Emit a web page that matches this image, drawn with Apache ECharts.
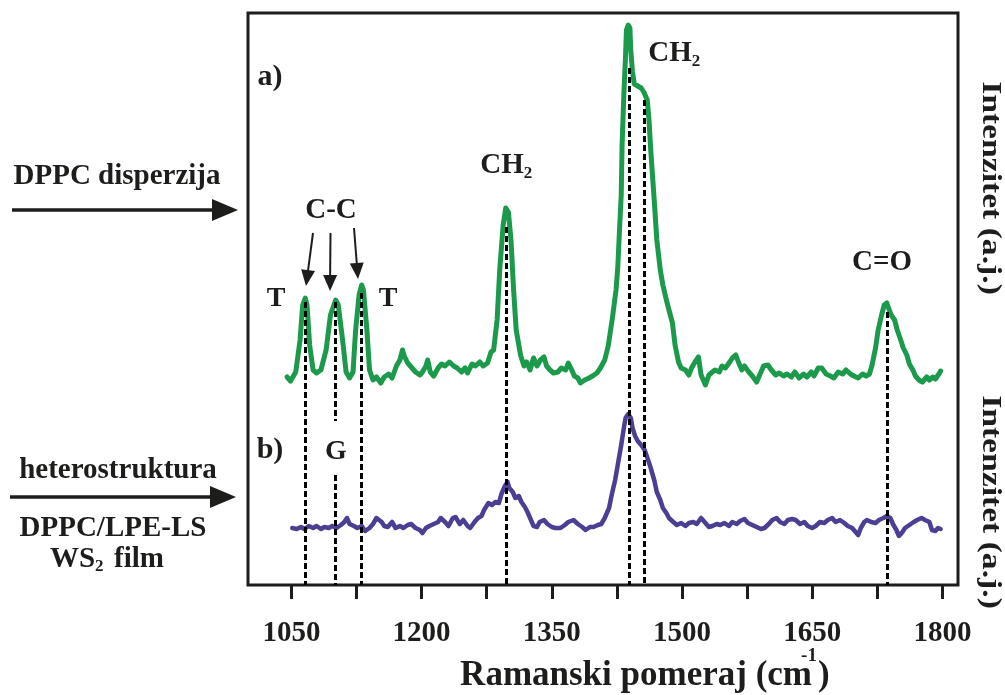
<!DOCTYPE html>
<html>
<head>
<meta charset="utf-8">
<script src="https://cdn.jsdelivr.net/npm/echarts@6/dist/echarts.min.js"></script>
<style>
  html, body { margin: 0; padding: 0; background: #ffffff; }
  #chart { width: 1005px; height: 695px; }
</style>
</head>
<body>
<div id="chart"></div>
<script>
// Raman spectrum a) DPPC dispersion: [wavenumber cm^-1, intensity a.u.]
const spectrumA = [
  [1045,208],[1049,204],[1055,213],[1060,245],[1063,280],[1066,287],[1068,280],[1071,240],[1075,215],[1079,212],
  [1084,215],[1090,235],[1095,270],[1101,285],[1104,280],[1109,245],[1113,213],[1117,207],[1121,213],[1124,255],
  [1128,290],[1131,300],[1133,295],[1137,255],[1140,215],[1144,205],[1148,208],[1153,202],[1157,208],[1162,211],
  [1166,207],[1171,219],[1175,225],[1178,235],[1180,229],[1184,222],[1189,217],[1193,213],[1198,210],[1201,213],
  [1205,219],[1207,225],[1210,213],[1214,209],[1219,217],[1223,221],[1227,219],[1232,223],[1237,219],[1241,217],
  [1246,213],[1250,217],[1253,212],[1258,221],[1262,219],[1267,223],[1271,219],[1276,222],[1280,233],[1283,235],
  [1287,265],[1290,315],[1294,360],[1297,377],[1298,379],[1300,373],[1303,345],[1306,295],[1309,255],[1314,230],
  [1318,219],[1321,223],[1325,215],[1329,227],[1333,219],[1337,225],[1341,228],[1344,219],[1348,215],[1352,212],
  [1357,213],[1361,217],[1366,215],[1369,222],[1373,215],[1376,209],[1380,207],[1383,202],[1388,205],[1393,207],
  [1397,209],[1402,212],[1406,217],[1411,225],[1415,239],[1420,268],[1424,295],[1426,317],[1428,355],[1430,390],
  [1431,440],[1433,490],[1435,530],[1436,555],[1438,560],[1440,557],[1441,535],[1443,513],[1445,501],[1449,499],
  [1453,497],[1456,493],[1460,485],[1462,465],[1464,435],[1468,385],[1471,345],[1475,315],[1478,300],[1482,285],
  [1485,275],[1489,262],[1492,240],[1496,223],[1499,217],[1504,215],[1508,210],[1511,217],[1515,223],[1519,228],
  [1522,210],[1527,200],[1531,210],[1535,213],[1538,215],[1543,213],[1546,219],[1550,217],[1555,223],[1558,227],
  [1562,230],[1565,223],[1569,215],[1572,219],[1577,213],[1581,209],[1586,203],[1591,213],[1594,219],[1599,220],
  [1603,215],[1608,210],[1612,212],[1617,209],[1621,211],[1626,208],[1630,213],[1635,207],[1640,211],[1644,208],
  [1649,213],[1652,209],[1657,217],[1661,217],[1666,211],[1671,209],[1675,207],[1680,213],[1685,211],[1689,215],
  [1694,211],[1698,209],[1703,207],[1708,211],[1712,209],[1716,211],[1719,220],[1723,237],[1726,255],[1730,270],
  [1733,280],[1736,282],[1738,277],[1741,270],[1745,265],[1748,255],[1752,245],[1755,237],[1759,230],[1762,221],
  [1766,215],[1769,209],[1773,205],[1777,203],[1782,208],[1785,205],[1789,208],[1792,206],[1796,211],[1798,214]
];

// Raman spectrum b) DPPC/LPE-LS WS2 heterostructure film
const spectrumB = [
  [1051,57],[1056,56],[1061,58],[1065,56],[1070,59],[1075,57],[1079,59],[1084,56],[1088,58],[1093,57],
  [1097,59],[1102,57],[1107,60],[1111,63],[1114,67],[1117,61],[1122,59],[1126,57],[1131,59],[1135,54],
  [1140,57],[1144,61],[1148,67],[1150,68],[1154,63],[1157,59],[1161,58],[1166,63],[1170,57],[1175,59],
  [1179,57],[1184,60],[1188,61],[1193,57],[1198,55],[1201,52],[1205,57],[1209,59],[1214,61],[1219,63],
  [1222,67],[1227,63],[1231,59],[1236,67],[1239,68],[1244,61],[1248,65],[1253,59],[1256,57],[1261,63],
  [1265,67],[1269,69],[1272,75],[1277,82],[1281,80],[1285,83],[1289,82],[1292,91],[1296,99],[1299,103],
  [1301,97],[1305,93],[1308,87],[1312,89],[1315,83],[1319,78],[1322,73],[1326,65],[1329,59],[1333,58],
  [1336,63],[1341,65],[1345,61],[1350,58],[1354,57],[1360,57],[1365,60],[1369,63],[1375,65],[1380,61],
  [1385,58],[1389,55],[1394,58],[1398,58],[1403,60],[1407,61],[1411,67],[1416,77],[1419,90],[1423,105],
  [1426,120],[1430,140],[1433,157],[1435,167],[1438,171],[1441,167],[1443,157],[1446,149],[1449,144],[1453,140],
  [1457,135],[1461,125],[1464,117],[1468,105],[1471,93],[1475,85],[1478,77],[1482,72],[1485,67],[1490,63],
  [1494,60],[1499,62],[1504,59],[1508,62],[1513,63],[1517,61],[1522,67],[1526,63],[1531,58],[1535,59],
  [1540,61],[1544,60],[1549,62],[1554,59],[1558,63],[1563,61],[1567,64],[1572,66],[1576,62],[1581,60],
  [1586,58],[1591,56],[1595,57],[1600,61],[1604,65],[1609,67],[1613,63],[1618,61],[1622,65],[1627,66],
  [1631,65],[1636,61],[1641,63],[1645,59],[1650,57],[1654,59],[1659,63],[1664,62],[1668,65],[1673,67],
  [1677,63],[1682,65],[1687,62],[1691,59],[1696,57],[1700,53],[1703,50],[1706,57],[1710,63],[1713,65],
  [1718,63],[1723,62],[1727,65],[1732,67],[1736,69],[1740,67],[1743,61],[1747,55],[1750,49],[1754,53],
  [1757,57],[1762,60],[1767,63],[1771,65],[1776,67],[1780,65],[1785,63],[1788,55],[1792,54],[1795,57],[1798,56]
];

// Band positions marked by dashed guides: [wavenumber, top intensity, bottom intensity]
const bandGuides = [
  [1066, 283, 0],
  [1101, 283, 164], [1101, 110, 0],
  [1131, 292, 0],
  [1298, 358, 0],
  [1439, 517, 0],
  [1457, 485, 0],
  [1736, 273, 0]
];

const tickValues = [1050, 1125, 1200, 1275, 1350, 1425, 1500, 1575, 1650, 1725, 1800];
const tickLabels = [1050, 1200, 1350, 1500, 1650, 1800];

const INK = '#1d1d1b';
const SERIF = '"Liberation Serif", "Times New Roman", serif';

function txt(x, y, text, size, extra, align) {
  return Object.assign({
    type: 'text', x: x, y: y, z: 100,
    style: {
      text: text, fill: INK, fontFamily: SERIF, fontWeight: 'bold', fontSize: size,
      align: align || 'center', verticalAlign: 'middle'
    }
  }, extra || {});
}

function arrow(x1, y1, x2, y2, width, headLen, headHalf) {
  const dx = x2 - x1, dy = y2 - y1, L = Math.hypot(dx, dy);
  const ux = dx / L, uy = dy / L;
  const bx = x2 - ux * headLen, by = y2 - uy * headLen;
  return [
    { type: 'line', z: 100, shape: { x1: x1, y1: y1, x2: bx + ux * 2, y2: by + uy * 2 },
      style: { stroke: INK, lineWidth: width } },
    { type: 'polygon', z: 100,
      shape: { points: [[x2, y2], [bx + uy * headHalf, by - ux * headHalf], [bx - uy * headHalf, by + ux * headHalf]] },
      style: { fill: INK } }
  ];
}

const graphics = [].concat(
  // left side captions with arrows pointing at the spectra
  [txt(117, 177, 'DPPC disperzija', 29)],
  arrow(12, 210, 238, 210, 3.5, 26, 11),
  [txt(118, 471, 'heterostruktura', 29)],
  arrow(10, 497, 236, 497, 3.5, 26, 11),
  [txt(113, 529, 'DPPC/LPE-LS', 29)],
  [txt(50, 560, 'WS', 29, null, 'left'), txt(95, 567, '2', 17, null, 'left'), txt(114, 560, 'film', 29, null, 'left')],
  // panel letters
  [txt(270, 77, 'a)', 30), txt(270, 450, 'b)', 30)],
  // band assignments
  [txt(276, 299, 'T', 28), txt(388, 299, 'T', 28), txt(331, 211, 'C-C', 29), txt(336, 452, 'G', 28)],
  arrow(313, 233, 306, 286, 2, 16, 7),
  arrow(330.5, 233, 330, 291, 2, 16, 7),
  arrow(354, 228, 358, 279, 2, 16, 7),
  [txt(502, 166, 'CH', 29), txt(528, 174, '2', 17)],
  [txt(670, 54, 'CH', 29), txt(696, 62, '2', 17)],
  [txt(882, 263, 'C=O', 29)],
  // right-hand intensity captions
  [txt(990, 188, 'Intenzitet (a.j.)', 28, { rotation: -Math.PI / 2, scaleX: 1.2 }),
   txt(990, 502, 'Intenzitet (a.j.)', 28, { rotation: -Math.PI / 2, scaleX: 1.2 })],
  // x axis title with superscript
  [txt(812, 676, 'Ramanski pomeraj (cm', 35, null, 'right'),
   txt(809, 656, '-1', 19),
   txt(818, 676, ')', 35, null, 'left')]
);

const chart = echarts.init(document.getElementById('chart'), null, { renderer: 'canvas' });

chart.setOption({
  animation: false,
  backgroundColor: '#ffffff',
  grid: {
    left: 248, right: 47, top: 13, bottom: 110,
    show: true, borderColor: INK, borderWidth: 3, backgroundColor: 'transparent'
  },
  xAxis: {
    type: 'value', min: 1000, max: 1818,
    axisLine: { show: false },
    splitLine: { show: false },
    axisTick: { show: true, inside: false, length: 14, customValues: tickValues,
      lineStyle: { color: INK, width: 3 } },
    axisLabel: { show: true, customValues: tickLabels, margin: 34,
      formatter: function (v) { return String(v); },
      color: INK, fontFamily: SERIF, fontWeight: 'bold', fontSize: 29 }
  },
  yAxis: {
    type: 'value', min: 0, max: 572, show: false
  },
  series: [
    {
      name: 'a) DPPC disperzija', type: 'line', data: spectrumA,
      showSymbol: false, symbol: 'none', z: 3,
      lineStyle: { color: '#1b9a4b', width: 5, join: 'round', cap: 'round' }
    },
    {
      name: 'b) DPPC/LPE-LS WS2', type: 'line', data: spectrumB,
      showSymbol: false, symbol: 'none', z: 3,
      lineStyle: { color: '#4a3f92', width: 4.5, join: 'round', cap: 'round' }
    },
    {
      name: 'guides', type: 'line', data: [], z: 5, silent: true,
      markLine: {
        silent: true, symbol: ['none', 'none'], animation: false,
        label: { show: false },
        lineStyle: { color: '#000000', width: 3, type: [6, 3], opacity: 1 },
        emphasis: { disabled: true },
        data: bandGuides.map(function (g) {
          return [{ coord: [g[0], g[1]] }, { coord: [g[0], g[2]] }];
        })
      }
    }
  ],
  graphic: graphics
});
</script>
</body>
</html>
